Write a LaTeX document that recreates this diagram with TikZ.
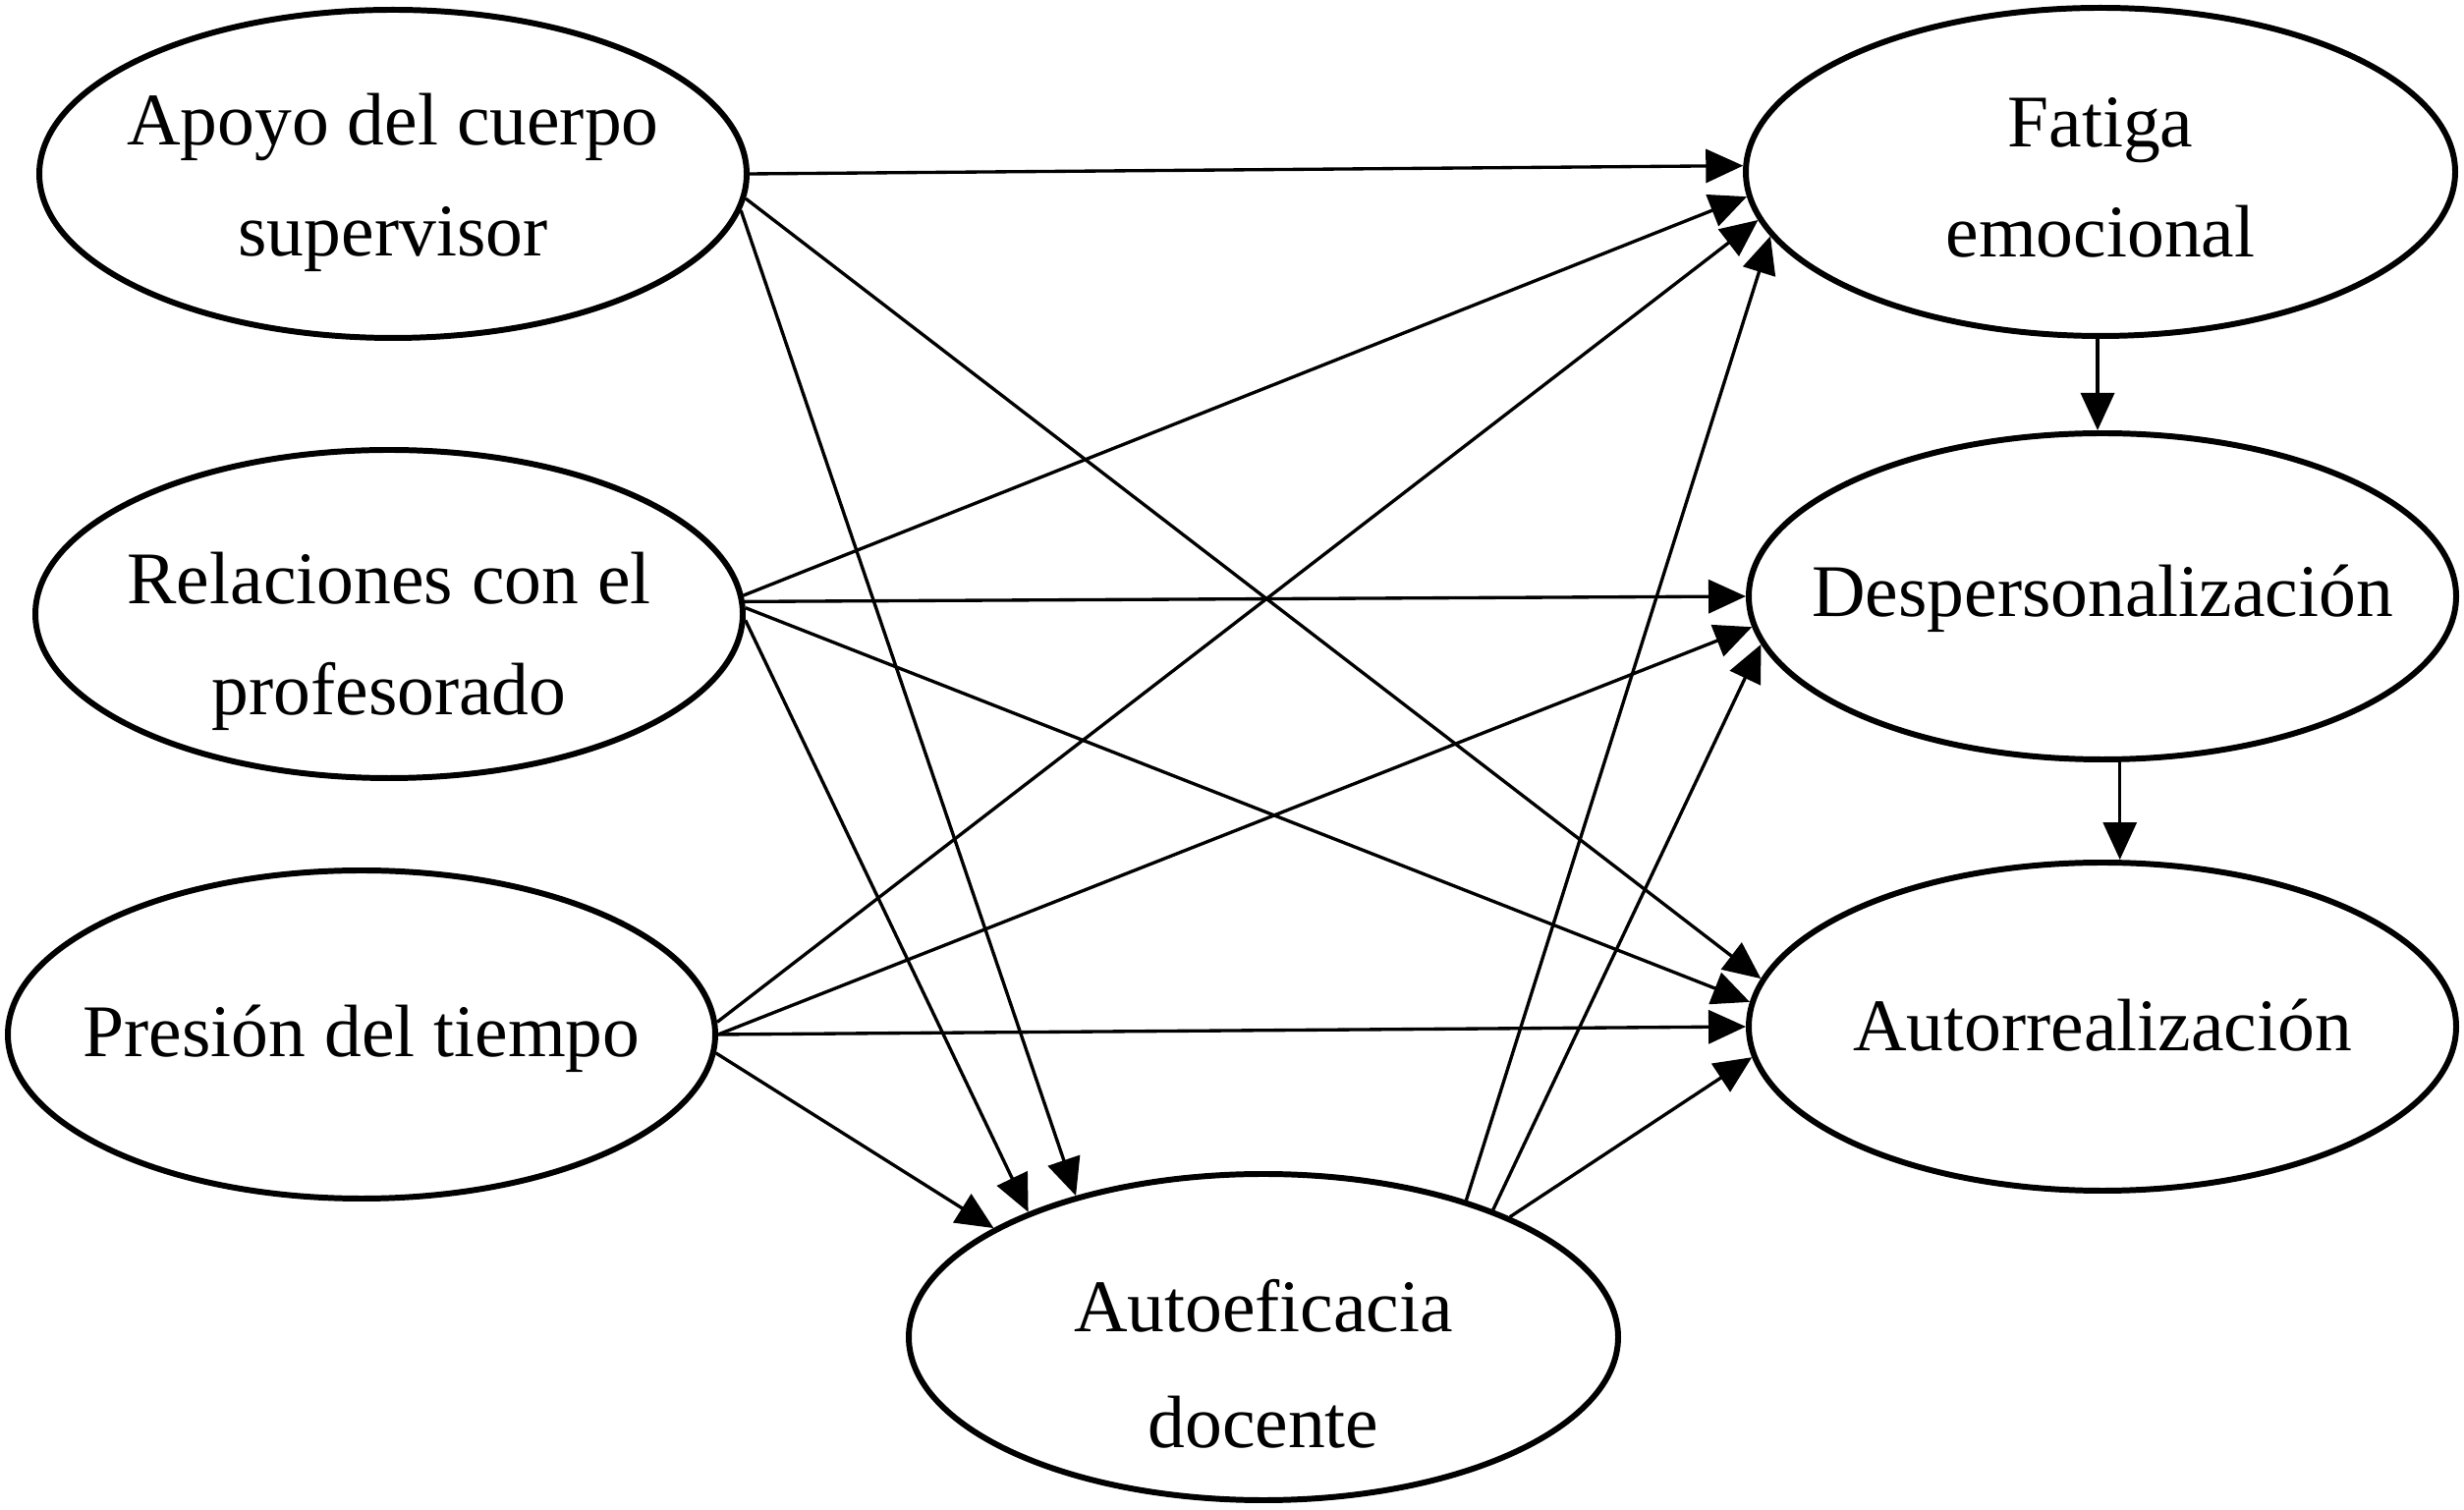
\documentclass[tikz,border=0pt]{standalone}
\usepackage{fontspec}
\setmainfont{Liberation Serif}
\usetikzlibrary{shapes.geometric,arrows.meta}
\begin{document}
\begin{tikzpicture}[
  var/.style={draw, ellipse, line width=1.7pt, inner xsep=-4cm, inner ysep=-2cm,
    minimum width=7.2cm, minimum height=3.34cm},
  txt/.style={align=center, inner sep=0pt, font=\fontsize{21.5}{32}\selectfont},
  arr/.style={line width=0.95pt, -{Triangle[length=0.38cm,width=0.34cm]}}
]
\useasboundingbox (0,0) rectangle (25.08,-15.37);
\node[var] (apoyo) at (4.00,-1.77) {};
\node[var] (rel) at (3.96,-6.25) {};
\node[var] (pres) at (3.68,-10.53) {};
\node[var, minimum height=3.32cm, minimum width=7.22cm] (auto) at (12.86,-13.61) {};
\node[var, minimum width=7.22cm] (fat) at (21.38,-1.75) {};
\node[var, minimum height=3.32cm] (desp) at (21.40,-6.07) {};
\node[var] (autor) at (21.40,-10.45) {};

\node[txt] (apoyo-t) at ([yshift=-0.09cm]apoyo.center) {Apoyo del cuerpo\\supervisor};
\node[txt] (rel-t) at ([yshift=-0.28cm]rel.center) {Relaciones con el\\profesorado};
\node[txt] (pres-t) at ([yshift=-0.04cm]pres.center) {Presión del tiempo};
\node[txt, font=\fontsize{21.5}{33.5}\selectfont] (auto-t) at ([yshift=-0.27cm]auto.center) {Autoeficacia\\docente};
\node[txt] (fat-t) at ([yshift=-0.06cm]fat.center) {Fatiga\\emocional};
\node[txt] (desp-t) at ([yshift=-0.02cm]desp.center) {Despersonalización};
\node[txt] (autor-t) at ([yshift=0.01cm]autor.center) {Autorrealización};

% from Apoyo
\draw[arr] (apoyo.-0.6) -- (fat.179.7);
\draw[arr] (apoyo.-4.8) -- (autor.172);
\draw[arr] (apoyo.-6.5) -- (auto.143);
% from Relaciones
\draw[arr] (rel.3) -- (fat.184);
\draw[arr] (rel.2) -- (desp.180.5);
\draw[arr] (rel.1) -- (autor.176.5);
\draw[arr] (rel.-1) -- (auto.152);
% from Presion
\draw[arr] (pres.2.6) -- (fat.188);
\draw[arr] (pres.0.5) -- (desp.185);
\draw[arr] (pres.-0.6) -- (autor.180.8);
\draw[arr] (pres.-3.2) -- (auto.158);
% from Autoeficacia
\draw[arr] (auto.34.6) -- (fat.191.5);
\draw[arr] (auto.29.7) -- (desp.188.5);
\draw[arr] (auto.26) -- (autor.185);
% vertical
\draw[arr] (fat.-91.7) -- (fat.-91.7 |- desp.north);
\draw[arr] (desp.-84.5) -- (desp.-84.5 |- autor.north);
\end{tikzpicture}
\end{document}
